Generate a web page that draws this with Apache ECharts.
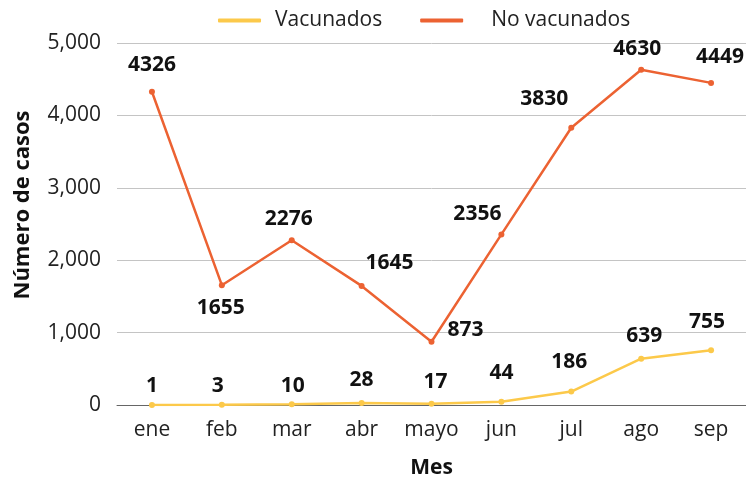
<!DOCTYPE html>
<html>
<head>
<meta charset="utf-8">
<script src="https://cdn.jsdelivr.net/npm/echarts@6/dist/echarts.min.js"></script>
<style>
  html, body { margin: 0; padding: 0; background: #fff; }
  #chart { width: 746px; height: 479px; }
</style>
</head>
<body>
<div id="chart"></div>
<script>
// datos
const meses = ['ene', 'feb', 'mar', 'abr', 'mayo', 'jun', 'jul', 'ago', 'sep'];
const vacunados = [1, 3, 10, 28, 17, 44, 186, 639, 755];
const noVacunados = [4326, 1655, 2276, 1645, 873, 2356, 3830, 4630, 4449];

// desplazamiento de cada etiqueta (para evitar solapes)
const offsetsVac = [[0, 0], [-4, 0], [1, 0], [0, -4], [4, -3], [0, -10], [-2, -11], [3, -4], [-4, -10]];
const offsetsNoVac = [[0, -8], [-1, 41], [-3, -3], [28, -4], [34, 7], [-24, -2], [-27, -10], [-4, -2], [9, -7]];

const FONT = '"Open Sans", "Noto Sans", sans-serif';
const FS = 21;
const AMARILLO = '#FCC94A';
const NARANJA = '#EC6232';

function conEtiquetas(valores, offsets) {
  return valores.map((v, i) => ({
    value: v,
    label: { offset: offsets[i] }
  }));
}

const chart = echarts.init(document.getElementById('chart'));

const etiqueta = {
  show: true,
  position: 'top',
  fontSize: FS,
  fontWeight: 'bold',
  color: '#111',
  fontFamily: FONT
};

const option = {
  animation: false,
  textStyle: { fontFamily: FONT },
  legend: {
    top: 5,
    left: 213,
    itemWidth: 43,
    itemHeight: 4,
    itemGap: 38,
    icon: 'roundRect',
    textStyle: { fontSize: FS, color: '#222', fontFamily: FONT },
    data: [
      { name: 'Vacunados', textStyle: { padding: [0, 0, 0, 9] } },
      { name: 'No vacunados', textStyle: { padding: [0, 0, 0, 23] } }
    ]
  },
  grid: { left: 117, right: 0, top: 43, bottom: 74, containLabel: false, outerBoundsMode: 'none' },
  xAxis: {
    type: 'category',
    data: meses,
    name: 'Mes',
    nameLocation: 'middle',
    nameGap: 53,
    nameTextStyle: { fontSize: FS, fontWeight: 'bold', color: '#111', fontFamily: FONT },
    axisLine: { lineStyle: { color: '#666' } },
    axisTick: { show: false },
    axisLabel: { interval: 0, fontSize: FS, color: '#222', margin: 15, fontFamily: FONT }
  },
  yAxis: {
    type: 'value',
    min: 0,
    max: 5000,
    interval: 1000,
    name: 'Número de casos',
    nameLocation: 'middle',
    nameGap: 83,
    nameTextStyle: {
      fontSize: 22,
      fontWeight: 'bold',
      color: '#111',
      fontFamily: FONT,
      padding: [0, 0, 0, 38]
    },
    axisLine: { show: false },
    axisTick: { show: false },
    splitLine: { lineStyle: { color: '#c4c4c4' } },
    axisLabel: {
      fontSize: FS,
      color: '#222',
      margin: 16,
      fontFamily: FONT,
      formatter: (v) => v.toLocaleString('en-US')
    }
  },
  series: [
    {
      name: 'Vacunados',
      type: 'line',
      data: conEtiquetas(vacunados, offsetsVac),
      color: AMARILLO,
      symbol: 'circle',
      symbolSize: 6,
      lineStyle: { width: 2.5, color: AMARILLO },
      itemStyle: { color: AMARILLO },
      label: etiqueta,
      z: 3
    },
    {
      name: 'No vacunados',
      type: 'line',
      data: conEtiquetas(noVacunados, offsetsNoVac),
      color: NARANJA,
      symbol: 'circle',
      symbolSize: 6,
      lineStyle: { width: 2.5, color: NARANJA },
      itemStyle: { color: NARANJA },
      label: etiqueta,
      z: 4
    }
  ]
};

chart.setOption(option);
</script>
</body>
</html>
